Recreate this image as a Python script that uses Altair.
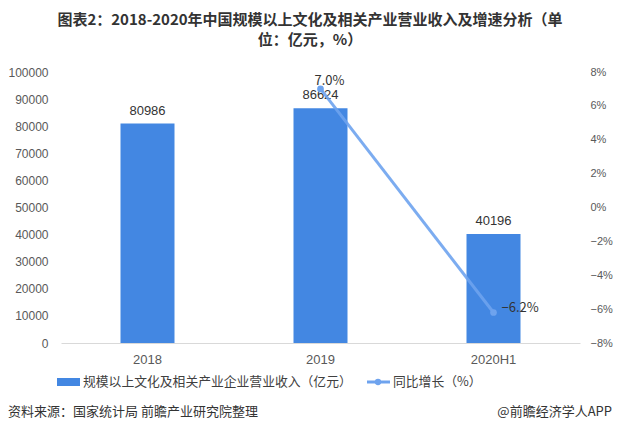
import altair as alt
import pandas as pd

categories = ["2018", "2019", "2020H1"]
revenue = [80986, 86624, 40196]
growth = [None, 7.0, -6.2]
growth_labels = ["", "7.0%", "−6.2%"]

title_lines = ["图表2：2018-2020年中国规模以上文化及相关产业营业收入及增速分析（单", "位：亿元，%）"]
legend_bar = "规模以上文化及相关产业企业营业收入（亿元）"
legend_line = "同比增长（%）"
source_text = "资料来源：国家统计局 前瞻产业研究院整理"
brand_text = "@前瞻经济学人APP"

BAR_COLOR = "#4387E2"
LINE_COLOR = "#6EA3EE"
CJK = "Noto Sans CJK SC"
NUM = "Liberation Sans"

df = pd.DataFrame({"cat": categories, "rev": revenue, "g": growth, "gl": growth_labels})
one = pd.DataFrame({"a": [0]})

x_enc = alt.X("cat:N", sort=categories, scale=alt.Scale(domain=categories, paddingInner=0, paddingOuter=0),
              axis=alt.Axis(title=None, labelAngle=0, ticks=False, domainColor="#d9d9d9",
                            labelColor="#595959", labelFont=NUM, labelFontSize=13, labelPadding=10))

y_left = alt.Y("rev:Q", scale=alt.Scale(domain=[0, 100000]),
               axis=alt.Axis(title=None, orient="left", values=list(range(0, 100001, 10000)), grid=False,
                             ticks=False, domain=False, labelColor="#595959", labelFont=NUM,
                             labelFontSize=12, labelPadding=13, format="d", labelOverlap=False))

y_right = alt.Y("g:Q", scale=alt.Scale(domain=[-8, 8]),
                axis=alt.Axis(title=None, orient="right", values=list(range(-8, 9, 2)), grid=False,
                              ticks=False, domain=False, labelColor="#595959", labelFont=NUM,
                              labelFontSize=11, labelPadding=10, labelOverlap=False,
                              labelExpr="format(datum.value/100, '.0%')"))

bars = alt.Chart(df).mark_bar(size=54, color=BAR_COLOR).encode(x=x_enc, y=y_left)
bar_text = alt.Chart(df).mark_text(baseline="bottom", dy=-6, font=NUM, fontSize=13, color="#333333").encode(
    x=x_enc, y=y_left, text="rev:Q")

ann = []
for i, t in enumerate(title_lines):
    ann.append(alt.Chart(one).mark_text(text=t, font=CJK, fontSize=15, fontWeight="bold", color="#333333",
                                        align="center", baseline="middle").encode(
        x=alt.value(249), y=alt.value(-52 + 20 * i)))
ann.append(alt.Chart(one).mark_rect(color=BAR_COLOR).encode(
    x=alt.value(-4), x2=alt.value(19), y=alt.value(306), y2=alt.value(314)))
ann.append(alt.Chart(one).mark_text(text=legend_bar, font=CJK, fontSize=12.8, color="#404040",
                                    align="left", baseline="middle").encode(x=alt.value(22), y=alt.value(310)))
ann.append(alt.Chart(one).mark_rule(color=LINE_COLOR, strokeWidth=3).encode(
    x=alt.value(306), x2=alt.value(329), y=alt.value(310)))
ann.append(alt.Chart(one).mark_point(color=LINE_COLOR, filled=True, opacity=1, size=40).encode(
    x=alt.value(317), y=alt.value(310)))
ann.append(alt.Chart(one).mark_text(text=legend_line, font=CJK, fontSize=12.8, color="#404040",
                                    align="left", baseline="middle").encode(x=alt.value(332), y=alt.value(310)))
ann.append(alt.Chart(one).mark_text(text=source_text, font=CJK, fontSize=13, color="#333333",
                                    align="left", baseline="middle").encode(x=alt.value(-53), y=alt.value(340)))
ann.append(alt.Chart(one).mark_text(text=brand_text, font=CJK, fontSize=13, color="#333333",
                                    align="right", baseline="middle").encode(x=alt.value(551), y=alt.value(340)))

line = alt.Chart(df).mark_line(color=LINE_COLOR, strokeWidth=3, opacity=0.9).encode(x=x_enc, y=y_right)
pts = alt.Chart(df).mark_point(color=LINE_COLOR, filled=True, opacity=1, size=45).encode(x=x_enc, y=y_right)
lt1 = alt.Chart(df).transform_filter("datum.g > 0").mark_text(
    align="left", baseline="middle", dx=-6, dy=-8, font=CJK, fontSize=13, color="#333333").encode(
    x=x_enc, y=y_right, text="gl:N")
lt2 = alt.Chart(df).transform_filter("datum.g < 0").mark_text(
    align="left", baseline="middle", dx=8, dy=-5, font=CJK, fontSize=13, color="#333333").encode(
    x=x_enc, y=y_right, text="gl:N")

chart = alt.layer(
    alt.layer(bars, bar_text, *ann),
    alt.layer(line, pts, lt1, lt2),
).resolve_scale(y="independent").properties(
    width=519, height=271,
    autosize=alt.AutoSizeParams(type="none"),
    padding={"left": 53, "top": 64, "right": 33, "bottom": 90},
    background="white",
).configure_view(stroke=None)

chart.save("out.html", embed_options={"renderer": "svg", "actions": False})
